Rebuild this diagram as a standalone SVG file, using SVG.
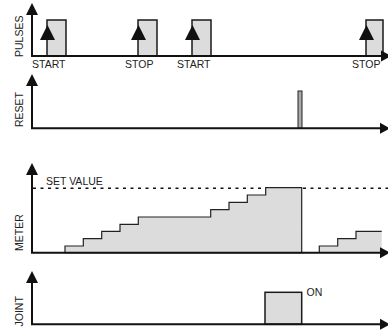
<svg xmlns="http://www.w3.org/2000/svg" width="388" height="334" viewBox="0 0 388 334">
<defs>
<style>
.ax{stroke:#111;stroke-width:2;fill:none}
.ah{fill:#111}
.pulse{fill:#dcdcdc;stroke:#1a1a1a;stroke-width:1.5}
.step{fill:#dcdcdc;stroke:#222;stroke-width:1.2}
.dash{stroke:#111;stroke-width:1.5;stroke-dasharray:3 4.5;fill:none}
.t{font-family:"Liberation Sans",Arial,sans-serif;font-size:10.5px;fill:#222}
</style>
<path id="yhead" d="M0,0 L-6,12 L6,12 Z"/>
<path id="xhead" d="M0,0 L-10,-5.5 L-10,5.5 Z"/>
<path id="phead" d="M0,0 L-7.5,15 L7.5,15 Z"/>
</defs>

<g id="pulses">
<rect class="pulse" x="47" y="20" width="19" height="36"/>
<rect class="pulse" x="138" y="20" width="19" height="36"/>
<rect class="pulse" x="192" y="20" width="19" height="36"/>
<rect class="pulse" x="366" y="20" width="17" height="36"/>
<use href="#phead" x="47.5" y="25" class="ah"/>
<use href="#phead" x="138.5" y="25" class="ah"/>
<use href="#phead" x="192.5" y="25" class="ah"/>
<use href="#phead" x="366.5" y="25" class="ah"/>
<text class="t" x="32" y="67.5">START</text>
<text class="t" x="125" y="67.5">STOP</text>
<text class="t" x="177" y="67.5">START</text>
<text class="t" x="352" y="67.5">STOP</text>
<text class="t" transform="translate(22.5,57) rotate(-90)">PULSES</text>
</g>

<g id="reset">
<rect x="298" y="91" width="4" height="37.3" fill="#aaa" stroke="#222" stroke-width="1"/>
<text class="t" transform="translate(22.5,127) rotate(-90)">RESET</text>
</g>

<g id="meter">
<line class="dash" x1="33" y1="188.3" x2="388" y2="188.3"/>
<path class="step" d="M65,252.7 V246 H83.3 V238.7 H101.7 V231.3 H120 V224.3 H138.3 V217 H210.7 V209.7 H229 V202.3 H247.3 V195 H265.7 V187.7 H301.7 V252.7 Z"/>
<path d="M319.3,252.7 V246 H337.7 V238.7 H356 V231.3 H381.7 V252.7 Z" fill="#dcdcdc"/>
<path d="M319.3,252.7 V246 H337.7 V238.7 H356 V231.3 H381.7" fill="none" stroke="#222" stroke-width="1.2"/>
<text class="t" x="46" y="185">SET VALUE</text>
<text class="t" transform="translate(22.5,251) rotate(-90)">METER</text>
</g>

<g id="joint">
<rect class="pulse" x="265" y="292.3" width="36.7" height="32"/>
<text class="t" x="306.5" y="295.7">ON</text>
<text class="t" transform="translate(22.5,326.5) rotate(-90)">JOINT</text>
</g>

<g id="connectors">
<path class="ax" d="M32,14 V56 H381"/>
<use href="#yhead" x="32" y="3" class="ah"/>
<use href="#xhead" x="391" y="56" class="ah"/>
<path class="ax" d="M32,85 V128.3 H381"/>
<use href="#yhead" x="32" y="74" class="ah"/>
<use href="#xhead" x="390" y="128.3" class="ah"/>
<path class="ax" d="M32,174 V252.7 H381"/>
<use href="#yhead" x="32" y="163" class="ah"/>
<use href="#xhead" x="390" y="252.7" class="ah"/>
<path class="ax" d="M32,282 V324.3 H381"/>
<use href="#yhead" x="32" y="271" class="ah"/>
<use href="#xhead" x="390" y="324.3" class="ah"/>
</g>
</svg>
